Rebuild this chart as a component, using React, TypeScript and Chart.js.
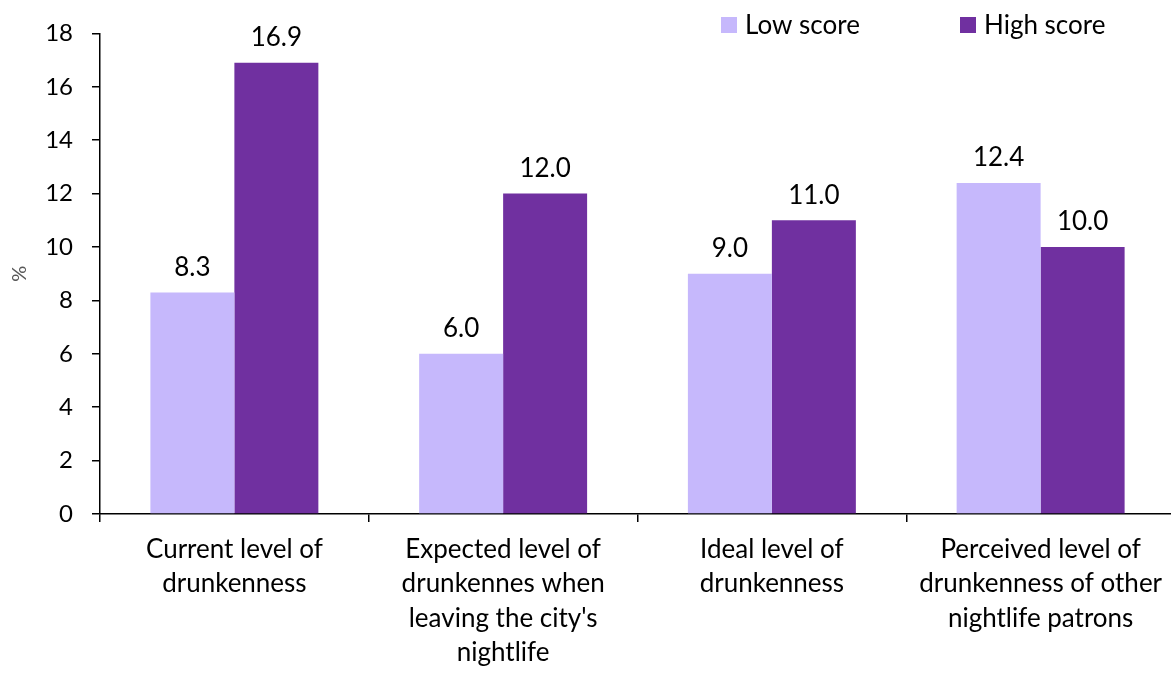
import React, { useEffect, useRef } from "react";
import { Chart, registerables } from "chart.js";

Chart.register(...registerables);

const categories: string[][] = [
  ["Current level of", "drunkenness"],
  ["Expected level of", "drunkennes when", "leaving the city's", "nightlife"],
  ["Ideal level of", "drunkenness"],
  ["Perceived level of", "drunkenness of other", "nightlife patrons"],
];
const seriesNames = ["Low score", "High score"];
const lowScore = [8.3, 6.0, 9.0, 12.4];
const highScore = [16.9, 12.0, 11.0, 10.0];
const yTicks = [0, 2, 4, 6, 8, 10, 12, 14, 16, 18];

const LOW = "#C6B8FC";
const HIGH = "#7030A0";
const FONT = "Lato, 'Open Sans', sans-serif";

const W = 1175;
const H = 673;

export default function App() {
  const ref = useRef<HTMLCanvasElement | null>(null);
  useEffect(() => {
    document.body.style.margin = "0";
    document.body.style.overflow = "hidden";
    const canvas = ref.current!;
    const dataLabels = {
      id: "dataLabels",
      afterDatasetsDraw(chart: any) {
        const ctx = chart.ctx;
        ctx.save();
        ctx.font = `26px ${FONT}`;
        ctx.fillStyle = "#000";
        ctx.textAlign = "center";
        ctx.textBaseline = "bottom";
        chart.data.datasets.forEach((ds: any, i: number) => {
          const meta = chart.getDatasetMeta(i);
          meta.data.forEach((bar: any, j: number) => {
            ctx.fillText(Number(ds.data[j]).toFixed(1), bar.x, bar.y - 12);
          });
        });
        ctx.restore();
      },
    };
    const legendPlugin = {
      id: "customLegend",
      afterDraw(chart: any) {
        const ctx = chart.ctx;
        ctx.save();
        ctx.font = `26px ${FONT}`;
        ctx.textBaseline = "middle";
        ctx.textAlign = "left";
        const xs = [721, 960];
        chart.data.datasets.forEach((ds: any, i: number) => {
          ctx.fillStyle = ds.backgroundColor;
          ctx.fillRect(xs[i], 17, 16, 16);
          ctx.fillStyle = "#000";
          ctx.fillText(ds.label, xs[i] + 24, 26);
        });
        ctx.restore();
      },
    };
    const chart = new Chart(canvas, {
      type: "bar",
      data: {
        labels: categories,
        datasets: [
          { label: seriesNames[0], data: lowScore, backgroundColor: LOW },
          { label: seriesNames[1], data: highScore, backgroundColor: HIGH },
        ],
      },
      options: {
        responsive: false,
        animation: false,
        layout: { padding: { top: 32, right: 0, left: 0, bottom: 0 } },
        datasets: {
          bar: { categoryPercentage: 0.625, barPercentage: 1.0 },
        },
        plugins: {
          legend: { display: false },
          tooltip: { enabled: false },
        },
        scales: {
          x: {
            grid: {
              offset: true,
              drawOnChartArea: false,
              drawTicks: true,
              tickLength: 8,
              color: "#000",
              lineWidth: 1.5,
            },
            border: { color: "#000", width: 1.5 },
            ticks: {
              color: "#000",
              font: { family: FONT, size: 26, lineHeight: 1.31 },
              padding: 11,
              maxRotation: 0,
              autoSkip: false,
            },
            afterFit(scale: any) {
              scale.height = H - 514;
            },
          },
          y: {
            min: 0,
            max: 18,
            afterBuildTicks(scale: any) {
              scale.ticks = yTicks.map((v) => ({ value: v }));
            },
            grid: {
              drawOnChartArea: false,
              drawTicks: true,
              tickLength: 8,
              color: "#000",
              lineWidth: 1.5,
            },
            border: { color: "#000", width: 1.5 },
            ticks: {
              color: "#000",
              font: { family: FONT, size: 24 },
              padding: 19,
            },
            title: {
              display: true,
              text: "%",
              color: "#595959",
              font: { family: FONT, size: 20 },
              padding: { top: 8, bottom: 0 },
            },
            afterFit(scale: any) {
              scale.width = 100;
            },
          },
        },
      },
      plugins: [dataLabels, legendPlugin],
    });
    return () => chart.destroy();
  }, []);
  return <canvas ref={ref} width={W} height={H} style={{ display: "block", width: W, height: H }} />;
}
